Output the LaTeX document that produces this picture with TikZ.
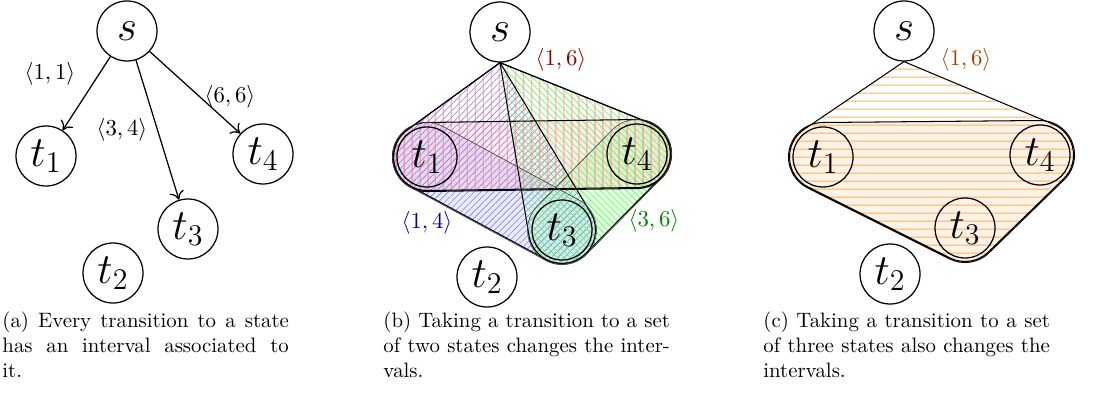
\documentclass[tikz,border=0pt]{standalone}
\usetikzlibrary{calc,patterns.meta,arrows.meta}
\newcommand\RH{16.08pt}
\newcommand\RS{16.56pt}
% hull of an apex point and two discs (A then B, counter-clockwise)
\newcommand\hullApexTwo[5][]{%
 \path[#1] let \p1=(#2), \p2=(#3), \p3=(#4),
  \n1={atan2(\y1-\y2,\x1-\x2)+acos(#5/veclen(\x1-\x2,\y1-\y2))},
  \n2={atan2(\y3-\y2,\x3-\x2)-90},
  \n3={atan2(\y1-\y3,\x1-\x3)-acos(#5/veclen(\x1-\x3,\y1-\y3))},
  \n4={\n1+mod(\n2-\n1+720,360)},
  \n5={\n2+mod(\n3-\n2+720,360)}
 in (\p1) -- ($(\p2)+(\n1:#5)$) arc[start angle=\n1,end angle=\n4,radius=#5]
  -- ($(\p3)+(\n2:#5)$) arc[start angle=\n2,end angle=\n5,radius=#5] -- cycle;}
% hull of an apex point and three discs
\newcommand\hullApexThree[6][]{%
 \path[#1] let \p1=(#2), \p2=(#3), \p3=(#4), \p4=(#5),
  \n1={atan2(\y1-\y2,\x1-\x2)+acos(#6/veclen(\x1-\x2,\y1-\y2))},
  \n2={atan2(\y3-\y2,\x3-\x2)-90},
  \n3={atan2(\y4-\y3,\x4-\x3)-90},
  \n4={atan2(\y1-\y4,\x1-\x4)-acos(#6/veclen(\x1-\x4,\y1-\y4))},
  \n5={\n1+mod(\n2-\n1+720,360)},
  \n6={\n2+mod(\n3-\n2+720,360)},
  \n7={\n3+mod(\n4-\n3+720,360)}
 in (\p1) -- ($(\p2)+(\n1:#6)$) arc[start angle=\n1,end angle=\n5,radius=#6]
  -- ($(\p3)+(\n2:#6)$) arc[start angle=\n2,end angle=\n6,radius=#6]
  -- ($(\p4)+(\n3:#6)$) arc[start angle=\n3,end angle=\n7,radius=#6] -- cycle;}
% closed hull of three discs
\newcommand\hullThree[5][]{%
 \path[#1] let \p1=(#2), \p2=(#3), \p3=(#4),
  \n1={atan2(\y2-\y1,\x2-\x1)-90},
  \n2={atan2(\y3-\y2,\x3-\x2)-90},
  \n3={atan2(\y1-\y3,\x1-\x3)-90},
  \n4={\n1+mod(\n2-\n1+720,360)},
  \n5={\n2+mod(\n3-\n2+720,360)},
  \n6={\n3+mod(\n1-\n3+720,360)}
 in ($(\p1)+(\n1:#5)$) -- ($(\p2)+(\n1:#5)$) arc[start angle=\n1,end angle=\n4,radius=#5]
  -- ($(\p3)+(\n2:#5)$) arc[start angle=\n2,end angle=\n5,radius=#5]
  -- ($(\p1)+(\n3:#5)$) arc[start angle=\n3,end angle=\n6,radius=#5] -- cycle;}
% stadium around two discs
\newcommand\stadium[4][]{%
 \path[#1] let \p1=(#2), \p2=(#3), \n1={atan2(\y2-\y1,\x2-\x1)-90}, \n2={\n1+180}, \n3={\n1+360}
 in ($(\p1)+(\n1:#4)$) -- ($(\p2)+(\n1:#4)$) arc[start angle=\n1,end angle=\n2,radius=#4]
  -- ($(\p1)+(\n2:#4)$) arc[start angle=\n2,end angle=\n3,radius=#4] -- cycle;}
\tikzset{
 st/.style={circle,draw,semithick,minimum size=28.8pt,inner sep=0pt,font=\fontsize{20.74}{25}\selectfont},
 lab/.style={inner sep=1pt,font=\fontsize{10.95}{13.6}\selectfont},
 capt/.style={inner sep=0pt,anchor=base west,font=\fontsize{10}{12}\selectfont},
 edge/.style={semithick,-{To[length=4pt,width=7pt]}},
 redhatch/.style={pattern={Lines[angle=90,distance=4pt,line width=0.6pt]},pattern color=red!55},
 bluehatch/.style={pattern={Lines[angle=45,distance=2.2pt,line width=0.3pt]},pattern color=blue!50},
 greenhatch/.style={pattern={Lines[angle=-45,distance=2.2pt,line width=0.3pt]},pattern color=green!65},
 orangehatch/.style={pattern={Lines[angle=0,distance=4pt,line width=0.6pt]},pattern color=orange!65},
 outline/.style={draw=black,line width=0.5pt},
 thinoutline/.style={draw=black!75,line width=0.3pt},
}
\begin{document}
\begin{tikzpicture}[x=0.48pt,y=0.48pt]
\fill[white] (0,0) rectangle (1099,-394);
\useasboundingbox (0,0) rectangle (1099,-394);
% ---------------- panel (a)
\node[st] (a-s) at (127,-31) {$s$};
\node[st] (a-t1) at (46,-156) {$t_1$};
\node[st] (a-t4) at (263,-154) {$t_4$};
\node[st] (a-t3) at (188,-229) {$t_3$};
\node[st] (a-t2) at (113,-273) {$t_2$};
\draw[edge] (a-s) -- (a-t1);
\draw[edge] (a-s) -- (a-t3);
\draw[edge] (a-s) -- (a-t4);
\node[lab] (a-l1) at (50,-74) {$\langle 1,1\rangle$};
\node[lab] (a-l2) at (122,-130) {$\langle 3,4\rangle$};
\node[lab] (a-l3) at (230,-97) {$\langle 6,6\rangle$};
% ---------------- panel (b)
\node[st] (b-s) at (500,-32) {$s$};
\coordinate (b-c1) at (427,-157);
\coordinate (b-c3) at (562,-230);
\coordinate (b-c4) at (637,-154);
\stadium[fill=red,fill opacity=.08]{b-c1}{b-c4}{\RS}
\stadium[fill=blue,fill opacity=.08]{b-c1}{b-c3}{\RS}
\stadium[fill=green,fill opacity=.10]{b-c3}{b-c4}{\RS}
\hullApexTwo[bluehatch]{b-s.south}{b-c1}{b-c3}{\RH}
\hullApexTwo[greenhatch]{b-s.south}{b-c3}{b-c4}{\RH}
\hullApexTwo[redhatch]{b-s.south}{b-c1}{b-c4}{\RH}
\hullApexTwo[outline]{b-s.south}{b-c1}{b-c4}{\RH}
\hullApexTwo[outline]{b-s.south}{b-c1}{b-c3}{\RH}
\hullApexTwo[outline]{b-s.south}{b-c3}{b-c4}{\RH}
\stadium[outline]{b-c1}{b-c4}{\RS}
\stadium[thinoutline]{b-c1}{b-c3}{\RS}
\stadium[thinoutline]{b-c3}{b-c4}{\RS}
\node[st] (b-t1) at (b-c1) {$t_1$};
\node[st] (b-t3) at (b-c3) {$t_3$};
\node[st] (b-t4) at (b-c4) {$t_4$};
\node[st] (b-t2) at (487,-277) {$t_2$};
\node[lab,text=red!55!black] (b-l16) at (561,-60) {$\langle 1,6\rangle$};
\node[lab,text=blue!60!black] (b-l14) at (427,-223) {$\langle 1,4\rangle$};
\node[lab,text=green!50!black] (b-l36) at (654,-221) {$\langle 3,6\rangle$};
% ---------------- panel (c)
\node[st] (c-s) at (904,-31) {$s$};
\coordinate (c-c1) at (823,-157);
\coordinate (c-c3) at (965,-228);
\coordinate (c-c4) at (1040,-155);
\hullThree[fill=orange,fill opacity=.09]{c-c1}{c-c3}{c-c4}{\RS}
\hullApexThree[orangehatch]{c-s.south}{c-c1}{c-c3}{c-c4}{\RH}
\hullApexThree[outline]{c-s.south}{c-c1}{c-c3}{c-c4}{\RH}
\hullThree[outline]{c-c1}{c-c3}{c-c4}{\RS}
\node[st] (c-t1) at (c-c1) {$t_1$};
\node[st] (c-t3) at (c-c3) {$t_3$};
\node[st] (c-t4) at (c-c4) {$t_4$};
\node[st] (c-t2) at (890,-274) {$t_2$};
\node[lab,text=orange!60!black] (c-l16) at (966,-60) {$\langle 1,6\rangle$};
% ---------------- captions
\node[capt] (cap-a) at (2,-327) {\parbox[t]{137.5pt}{\makebox[137.5pt][s]{(a) Every transition to a state}\\\makebox[137.5pt][s]{has an interval associated to}\\it.}};
\node[capt] (cap-b) at (383,-327) {\parbox[t]{137.5pt}{\makebox[137.5pt][s]{(b) Taking a transition to a set}\\\makebox[137.5pt][s]{of two states changes the inter-}\\vals.}};
\node[capt] (cap-c) at (763,-327) {\parbox[t]{137.5pt}{\makebox[137.5pt][s]{(c) Taking a transition to a set}\\\makebox[137.5pt][s]{of three states also changes the}\\intervals.}};
\end{tikzpicture}
\end{document}
